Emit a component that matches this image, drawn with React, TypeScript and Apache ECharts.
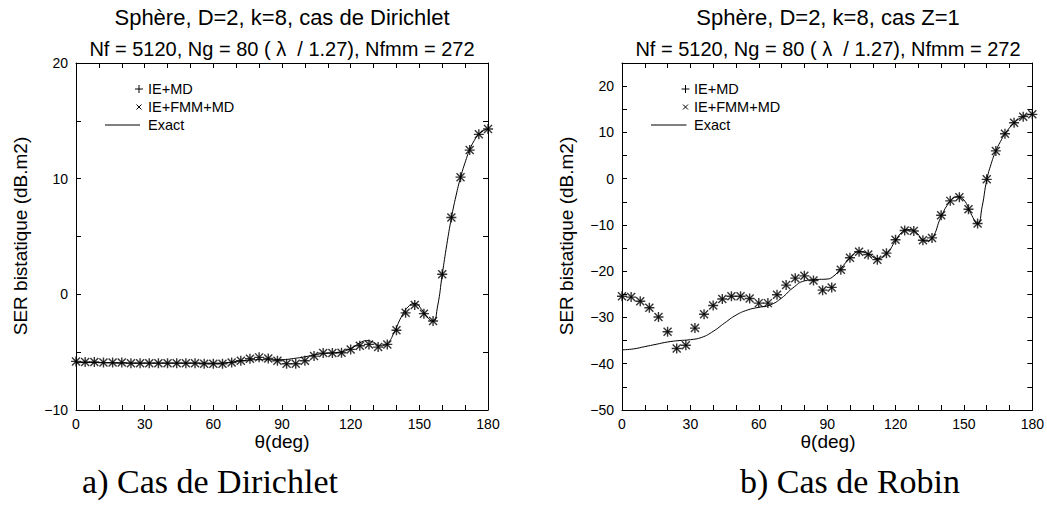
import React, { useEffect, useRef } from "react";
import * as echarts from "echarts";

// ---------- data ----------
const thetaMarks: number[] = [0,4,8,12,16,20,24,28,32,36,40,44,48,52,56,60,64,68,72,76,80,84,88,92,96,100,104,108,112,116,120,124,128,132,136,140,144,148,152,156,160,164,168,172,176,180];

// Dirichlet case (left)
const dirIEMD: number[] = [-5.8,-5.85,-5.85,-5.9,-5.9,-5.9,-5.95,-5.95,-5.95,-5.95,-5.95,-5.95,-5.95,-5.95,-6.0,-6.0,-6.0,-5.9,-5.74,-5.57,-5.45,-5.54,-5.74,-6.0,-6.0,-5.74,-5.34,-5.08,-5.08,-5.05,-4.76,-4.44,-4.33,-4.56,-4.33,-3.1,-1.6,-0.92,-1.67,-2.3,1.73,6.64,10.13,12.47,13.83,14.29];
const dirIEFMMMD: number[] = [-5.8,-5.85,-5.85,-5.9,-5.9,-5.9,-5.95,-5.95,-5.95,-5.95,-5.95,-5.95,-5.95,-5.95,-6.0,-6.0,-6.0,-5.9,-5.74,-5.57,-5.45,-5.54,-5.74,-6.0,-6.0,-5.74,-5.34,-5.08,-5.08,-5.05,-4.76,-4.44,-4.33,-4.56,-4.33,-3.1,-1.6,-0.92,-1.67,-2.3,1.73,6.64,10.13,12.47,13.83,14.29];
const dirExactTheta: number[] = [0,10,20,30,40,50,60,66,70,75,80,85,90,95,100,105,110,115,120,124,127,130,133,136,139,142,145,148,151,154,156,158,160,162,164,166,168,170,172,174,176,178,180];
const dirExact: number[] = [-5.9,-5.9,-5.95,-5.95,-5.95,-5.95,-5.95,-5.9,-5.8,-5.7,-5.65,-5.65,-5.65,-5.55,-5.4,-5.2,-5.08,-5.0,-4.7,-4.2,-4.0,-4.15,-4.45,-4.25,-3.3,-2.0,-1.1,-0.78,-1.3,-2.1,-2.35,-1.0,1.7,4.3,6.6,8.5,10.1,11.4,12.5,13.3,13.85,14.15,14.3];

// Robin case Z=1 (right)
const robIEMD: number[] = [-25.4,-25.6,-26.5,-27.9,-29.9,-33.1,-36.7,-36.0,-32.3,-29.3,-27.4,-26.0,-25.4,-25.4,-25.9,-26.9,-26.9,-25.1,-23.0,-21.5,-21.0,-22.0,-24.1,-23.5,-19.7,-17.1,-15.8,-16.4,-17.5,-16.1,-13.2,-11.2,-11.3,-13.3,-12.8,-7.9,-4.8,-4.0,-6.6,-9.7,-0.15,6.0,9.7,12.1,13.4,13.9];
const robIEFMMMD: number[] = [-25.4,-25.6,-26.5,-27.9,-29.9,-33.1,-36.7,-36.0,-32.3,-29.3,-27.4,-26.0,-25.4,-25.4,-25.9,-26.9,-26.9,-25.1,-23.0,-21.5,-21.0,-22.0,-24.1,-23.5,-19.7,-17.1,-15.8,-16.4,-17.5,-16.1,-13.2,-11.2,-11.3,-13.3,-12.8,-7.9,-4.8,-4.0,-6.6,-9.7,-0.15,6.0,9.7,12.1,13.4,13.9];
const robExactTheta: number[] = [0,5,10,15,20,25,30,35,40,45,50,55,60,65,70,75,80,85,90,93,96,100,104,108,112,116,120,123,126,129,133,136,140,144,147,150,153,156,158,160,162,164,166,168,170,172,174,176,178,180];
const robExact: number[] = [-37.0,-36.8,-36.3,-35.8,-35.3,-35.0,-34.8,-34.3,-33.0,-31.2,-29.5,-28.4,-27.8,-27.3,-25.8,-23.6,-22.1,-21.8,-21.7,-21.0,-19.4,-17.2,-15.8,-16.2,-17.3,-16.3,-13.4,-11.5,-11.0,-11.6,-13.5,-12.9,-8.2,-4.9,-3.9,-4.6,-7.5,-9.8,-6.0,-0.3,3.3,6.0,8.0,9.7,11.0,12.1,12.9,13.4,13.8,13.9];

const xTickLabels: number[] = [0, 30, 60, 90, 120, 150, 180];
const leftYTickLabels: number[] = [-10, 0, 10, 20];
const rightYTickLabels: number[] = [-50, -40, -30, -20, -10, 0, 10, 20];

const titles1: string[] = ["Sphère, D=2, k=8, cas de Dirichlet", "Sphère, D=2, k=8, cas Z=1"];
const titles2: string[] = ["Nf = 5120, Ng = 80 ( λ  / 1.27), Nfmm = 272", "Nf = 5120, Ng = 80 ( λ  / 1.27), Nfmm = 272"];
const captions: string[] = ["a) Cas de Dirichlet", "b) Cas de Robin"];
const legendNames: string[] = ["IE+MD", "IE+FMM+MD", "Exact"];

// ---------- helpers ----------
const SANS = "'Liberation Sans', Arial, Helvetica, sans-serif";
const SERIF = "'Liberation Serif', 'Times New Roman', serif";
const zip = (xs: number[], ys: number[]) => xs.map((x, i) => [x, ys[i]]);
const minus = (v: number) => String(v).replace("-", "\u2212");

function axesFor(grid: number, ymin: number, ymax: number, yLabels: number[]) {
  const lineStyle = { color: "#000", width: 1 };
  const tick = { show: true, inside: true, length: 5, lineStyle: { color: "#000", width: 1 } };
  const lbl = { color: "#000", fontSize: 14, fontFamily: SANS };
  const xAxes = [
    {
      type: "value", gridIndex: grid, position: "bottom", min: 0, max: 180, interval: 10,
      axisLine: { show: true, onZero: false, lineStyle }, axisTick: tick, splitLine: { show: false },
      axisLabel: { ...lbl, margin: 7, showMinLabel: true, showMaxLabel: true,
        formatter: (v: number) => (xTickLabels.indexOf(v) >= 0 ? String(v) : "") },
    },
    {
      type: "value", gridIndex: grid, position: "top", min: 0, max: 180, interval: 10,
      axisLine: { show: true, onZero: false, lineStyle }, axisTick: tick, splitLine: { show: false },
      axisLabel: { show: false },
    },
  ];
  const yAxes = [
    {
      type: "value", gridIndex: grid, position: "left", min: ymin, max: ymax, interval: 5,
      axisLine: { show: true, onZero: false, lineStyle }, axisTick: tick, splitLine: { show: false },
      axisLabel: { ...lbl, margin: 8, showMinLabel: true, showMaxLabel: true,
        formatter: (v: number) => (yLabels.indexOf(v) >= 0 ? minus(v) : "") },
    },
    {
      type: "value", gridIndex: grid, position: "right", min: ymin, max: ymax, interval: 5,
      axisLine: { show: true, onZero: false, lineStyle }, axisTick: tick, splitLine: { show: false },
      axisLabel: { show: false },
    },
  ];
  return { xAxes, yAxes };
}

const plusSym = "path://M5,0L5,10M0,5L10,5";
const crossSym = "path://M0,0L10,10M10,0L0,10";

function seriesFor(axisIdx: number, ie: number[], fmm: number[], exTheta: number[], ex: number[]) {
  const common = { xAxisIndex: axisIdx, yAxisIndex: axisIdx, silent: true, animation: false };
  return [
    {
      ...common, type: "line", name: legendNames[2], data: zip(exTheta, ex), showSymbol: false,
      smooth: 0.5, lineStyle: { color: "#000", width: 1 }, z: 2,
    },
    {
      ...common, type: "scatter", name: legendNames[0], data: zip(thetaMarks, ie), symbol: plusSym,
      symbolSize: 10, itemStyle: { color: "#000", borderColor: "#000", borderWidth: 1.4 }, z: 3,
    },
    {
      ...common, type: "scatter", name: legendNames[1], data: zip(thetaMarks, fmm), symbol: crossSym,
      symbolSize: 8, itemStyle: { color: "#000", borderColor: "#000", borderWidth: 1.4 }, z: 3,
    },
  ];
}

function legendGraphics(symX: number, textX: number, lineX0: number, ys: number[]) {
  const st = { stroke: "#000", lineWidth: 1 };
  const txt = (y: number, t: string) => ({
    type: "text", x: textX, y, style: { text: t, fontSize: 14.5, fontFamily: SANS, fill: "#000", align: "left", verticalAlign: "middle" },
  });
  return [
    { type: "line", shape: { x1: symX - 4, y1: ys[0], x2: symX + 4, y2: ys[0] }, style: st },
    { type: "line", shape: { x1: symX, y1: ys[0] - 4, x2: symX, y2: ys[0] + 4 }, style: st },
    { type: "line", shape: { x1: symX - 2.5, y1: ys[1] - 2.5, x2: symX + 2.5, y2: ys[1] + 2.5 }, style: st },
    { type: "line", shape: { x1: symX + 2.5, y1: ys[1] - 2.5, x2: symX - 2.5, y2: ys[1] + 2.5 }, style: st },
    { type: "line", shape: { x1: lineX0, y1: ys[2], x2: symX + 1, y2: ys[2] }, style: st },
    txt(ys[0], legendNames[0]),
    txt(ys[1], legendNames[1]),
    txt(ys[2], legendNames[2]),
  ];
}

function centeredText(x: number, y: number, t: string, size: number, family: string, rotation = 0) {
  return {
    type: "text", x, y, rotation,
    style: { text: t, fontSize: size, fontFamily: family, fill: "#000", align: "center", verticalAlign: "middle" },
  };
}

export default function App() {
  const ref = useRef<HTMLDivElement>(null);
  useEffect(() => {
    if (!ref.current) return;
    const chart = echarts.init(ref.current, undefined, { renderer: "svg" });
    const a = axesFor(0, -10, 20, leftYTickLabels);
    const b = axesFor(1, -50, 25, rightYTickLabels);
    const option: any = {
      animation: false,
      backgroundColor: "#fff",
      grid: [
        { left: 76, right: 559, top: 63, bottom: 97, containLabel: false },
        { left: 622, right: 13, top: 63, bottom: 97, containLabel: false },
      ],
      xAxis: [...a.xAxes, ...b.xAxes].map((ax, i) => ({ ...ax, gridIndex: i < 2 ? 0 : 1 })),
      yAxis: [...a.yAxes, ...b.yAxes].map((ax, i) => ({ ...ax, gridIndex: i < 2 ? 0 : 1 })),
      series: [
        ...seriesFor(0, dirIEMD, dirIEFMMMD, dirExactTheta, dirExact),
        ...seriesFor(2, robIEMD, robIEFMMMD, robExactTheta, robExact),
      ],
      graphic: [
        centeredText(282, 17, titles1[0], 22, SANS),
        centeredText(282, 49, titles2[0], 20, SANS),
        centeredText(828, 17, titles1[1], 22, SANS),
        centeredText(828, 49, titles2[1], 20, SANS),
        centeredText(20, 236, "SER bistatique (dB.m2)", 19, SANS, Math.PI / 2),
        centeredText(566, 236, "SER bistatique (dB.m2)", 19, SANS, Math.PI / 2),
        centeredText(282, 441, "θ(deg)", 19, SANS),
        centeredText(828, 441, "θ(deg)", 19, SANS),
        centeredText(210, 481, captions[0], 34, SERIF),
        centeredText(850, 481, captions[1], 34, SERIF),
        ...legendGraphics(139, 148, 105, [89, 107, 125]),
        ...legendGraphics(685.5, 694, 651, [89, 107, 125]),
      ],
    };
    chart.setOption(option);
    return () => chart.dispose();
  }, []);
  return <div ref={ref} style={{ position: "absolute", left: 0, top: 0, width: 1047, height: 507 }} />;
}
